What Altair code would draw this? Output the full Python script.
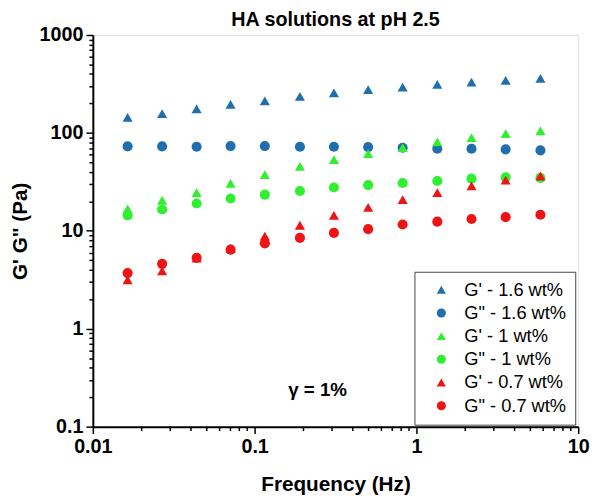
import altair as alt
import pandas as pd

# Frequency (Hz)
freq = [0.0164, 0.0268, 0.0438, 0.0710, 0.1156, 0.1905, 0.309, 0.503, 0.822, 1.346, 2.19, 3.56, 5.84]

# Moduli (Pa)
g1_16 = [144, 157, 176, 196, 213, 236, 256, 277, 294, 313, 331, 344, 360]
g2_16 = [72.8, 72.8, 72.3, 73.4, 73.4, 72.3, 72.3, 71.6, 70.6, 69.0, 69.0, 67.9, 66.4]
g1_10 = [16.8, 20.5, 24.6, 30.6, 37.4, 45.5, 53.5, 61.5, 70.6, 81.2, 89.7, 98.4, 104.7]
g2_10 = [14.4, 16.5, 19.0, 21.4, 23.4, 25.5, 27.7, 29.3, 30.8, 32.3, 34.1, 35.2, 34.7]
g1_07 = [3.15, 3.9, 5.26, 6.63, 8.83, 11.4, 14.4, 17.4, 20.8, 24.6, 28.8, 32.9, 36.3]
g2_07 = [3.7, 4.6, 5.30, 6.42, 7.45, 8.48, 9.52, 10.4, 11.6, 12.4, 13.2, 13.8, 14.6]

names = ["G' - 1.6 wt%", 'G" - 1.6 wt%', "G' - 1 wt%", 'G" - 1 wt%', "G' - 0.7 wt%", 'G" - 0.7 wt%']
series = [g1_16, g2_16, g1_10, g2_10, g1_07, g2_07]
colors = ["#1f6fae", "#1f6fae", "#30ee30", "#30ee30", "#ee1414", "#ee1414"]
shapes = ["triangle-up", "circle", "triangle-up", "circle", "triangle-up", "circle"]

x_ticks = [0.01, 0.02, 0.03, 0.04, 0.05, 0.06, 0.07, 0.08, 0.09,
           0.1, 0.2, 0.3, 0.4, 0.5, 0.6, 0.7, 0.8, 0.9,
           1, 2, 3, 4, 5, 6, 7, 8, 9, 10]
x_major = [0.01, 0.1, 1, 10]
y_ticks = [0.1, 0.2, 0.3, 0.4, 0.5, 0.6, 0.7, 0.8, 0.9,
           1, 2, 3, 4, 5, 6, 7, 8, 9,
           10, 20, 30, 40, 50, 60, 70, 80, 90,
           100, 200, 300, 400, 500, 600, 700, 800, 900, 1000]
y_major = [0.1, 1, 10, 100, 1000]

rows = []
for name, vals in zip(names, series):
    for f, v in zip(freq, vals):
        rows.append({"freq": f, "val": v, "series": name})
df = pd.DataFrame(rows)

note = pd.DataFrame([{"freq": 0.245, "val": 0.235, "t": "γ = 1%"}])

FONT = "Liberation Sans"


def major_test(vals):
    return "indexof([" + ",".join(str(v) for v in vals) + "], datum.value) >= 0"


def make_axis(vals, major, title_pad):
    test = major_test(major)
    return alt.Axis(
        values=vals,
        labelExpr=test + " ? format(datum.value, '~g') : ''",
        tickSize={"condition": {"test": test, "value": 7}, "value": 4},
        tickWidth=1.5,
        tickColor="black",
        domainColor="black",
        domainWidth=2,
        grid=False,
        labelOverlap=False,
        labelFlush=False,
        labelBound=False,
        labelFont=FONT,
        labelFontSize=20,
        labelFontWeight="bold",
        labelColor="black",
        labelPadding=3,
        titleFont=FONT,
        titleFontSize=21,
        titleFontWeight="bold",
        titleColor="black",
        titlePadding=title_pad,
    )


legend = alt.Legend(
    title=None,
    orient="none",
    legendX=326,
    legendY=240,
    padding=9,
    strokeColor="#444",
    fillColor="white",
    labelFont=FONT,
    labelFontSize=18.5,
    labelColor="black",
    symbolSize=85,
    symbolOpacity=1,
    symbolStrokeWidth=0,
    symbolOffset=9,
    labelOffset=14,
    rowPadding=4.5,
)

points = alt.Chart(df).mark_point(filled=True, opacity=1, size=105).encode(
    x=alt.X("freq:Q", scale=alt.Scale(type="log", domain=[0.01, 10]),
            axis=make_axis(x_ticks, x_major, 18), title="Frequency (Hz)"),
    y=alt.Y("val:Q", scale=alt.Scale(type="log", domain=[0.1, 1000]),
            axis=make_axis(y_ticks, y_major, 9), title='G\' G" (Pa)'),
    color=alt.Color("series:N", scale=alt.Scale(domain=names, range=colors), legend=legend),
    shape=alt.Shape("series:N", scale=alt.Scale(domain=names, range=shapes), legend=legend),
)

text = alt.Chart(note).mark_text(font=FONT, fontSize=19, fontWeight="bold", color="black").encode(
    x="freq:Q", y="val:Q", text="t:N"
)

chart = alt.layer(points, text).properties(
    width=492,
    height=397,
    autosize=alt.AutoSizeParams(type="none"),
    padding={"left": 86, "top": 24, "right": 16, "bottom": 72},
    title=alt.TitleParams(
        "HA solutions at pH 2.5", font=FONT, fontSize=20, fontWeight="bold",
        color="black", anchor="middle", offset=-5, frame="group",
    ),
).configure_view(stroke="black", strokeWidth=2).configure(background="white")

chart.save("out.html", embed_options={"renderer": "svg", "actions": False})
